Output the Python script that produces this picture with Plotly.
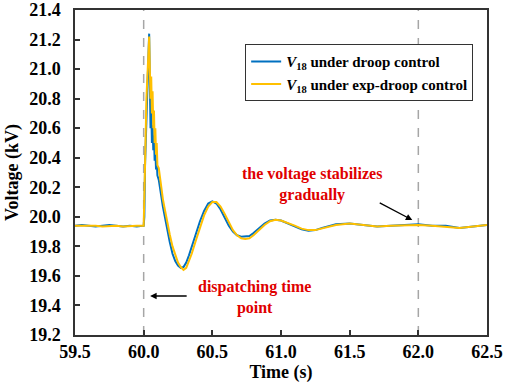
import plotly.graph_objects as go

# ---------------- data ----------------
time_s = [59.50, 59.55, 59.60, 59.65, 59.70, 59.75, 59.80, 59.85, 59.90, 59.95,
          60.00, 60.005, 60.01, 60.02, 60.03, 60.04, 60.045, 60.05, 60.055, 60.06,
          60.065, 60.07, 60.075, 60.08, 60.085, 60.09, 60.095, 60.10, 60.11, 60.12,
          60.13, 60.14, 60.15, 60.17, 60.19, 60.21, 60.23, 60.25, 60.27, 60.29,
          60.31, 60.33, 60.35, 60.38, 60.41, 60.44, 60.47, 60.50, 60.53, 60.56,
          60.59, 60.62, 60.65, 60.68, 60.71, 60.74, 60.77, 60.80, 60.84, 60.88,
          60.92, 60.96, 61.00, 61.05, 61.10, 61.15, 61.20, 61.25, 61.30, 61.35,
          61.40, 61.50, 61.60, 61.70, 61.80, 61.90, 62.00, 62.10, 62.20, 62.30,
          62.40, 62.50]

v_droop = [19.94, 19.945, 19.94, 19.935, 19.94, 19.945, 19.94, 19.935, 19.94, 19.935,
           19.94, 20.00, 20.35, 20.60, 20.95, 21.24, 20.90, 20.60, 20.75, 20.50,
           20.62, 20.45, 20.55, 20.38, 20.45, 20.32, 20.38, 20.28, 20.25, 20.18,
           20.12, 20.07, 20.02, 19.92, 19.83, 19.75, 19.70, 19.67, 19.655, 19.66,
           19.69, 19.74, 19.80, 19.89, 19.97, 20.04, 20.09, 20.105, 20.09, 20.05,
           19.99, 19.94, 19.90, 19.875, 19.865, 19.865, 19.87, 19.89, 19.925, 19.955,
           19.975, 19.98, 19.975, 19.955, 19.935, 19.915, 19.905, 19.91, 19.925, 19.94,
           19.95, 19.955, 19.945, 19.935, 19.94, 19.945, 19.95, 19.94, 19.94, 19.925,
           19.935, 19.945]

v_exp_droop = [19.94, 19.94, 19.945, 19.94, 19.935, 19.94, 19.94, 19.935, 19.94, 19.94,
               19.94, 20.10, 20.35, 20.80, 21.00, 21.22, 21.00, 20.80, 20.95, 20.70,
               20.85, 20.60, 20.72, 20.50, 20.60, 20.42, 20.50, 20.35, 20.33, 20.25,
               20.18, 20.12, 20.07, 19.97, 19.88, 19.80, 19.74, 19.69, 19.66, 19.64,
               19.655, 19.70, 19.75, 19.84, 19.93, 20.01, 20.07, 20.10, 20.10, 20.07,
               20.02, 19.96, 19.91, 19.875, 19.855, 19.85, 19.855, 19.875, 19.91, 19.945,
               19.97, 19.98, 19.975, 19.96, 19.94, 19.92, 19.91, 19.91, 19.92, 19.935,
               19.945, 19.955, 19.945, 19.935, 19.94, 19.945, 19.945, 19.94, 19.935, 19.925,
               19.935, 19.945]

x_ticks = [59.5, 60.0, 60.5, 61.0, 61.5, 62.0, 62.5]
y_ticks = [19.2, 19.4, 19.6, 19.8, 20.0, 20.2, 20.4, 20.6, 20.8, 21.0, 21.2, 21.4]
marker_times = [60.0, 62.0]

FONT = "Liberation Serif"

fig = go.Figure()
fig.add_trace(go.Scatter(
    x=time_s, y=v_droop, mode="lines",
    name="<b><i>V</i><sub>18</sub> under droop control</b>",
    line=dict(color="#0070C0", width=2)))
fig.add_trace(go.Scatter(
    x=time_s, y=v_exp_droop, mode="lines",
    name="<b><i>V</i><sub>18</sub> under exp-droop control</b>",
    line=dict(color="#FFC000", width=2)))

for t in marker_times:
    fig.add_vline(x=t, line=dict(color="#A6A6A6", width=1.5, dash="dash"), layer="below")

fig.add_annotation(x=61.227, y=20.22, text="<b>the voltage stabilizes<br>gradually</b>",
                   showarrow=False, font=dict(family=FONT, size=16, color="#E00000"),
                   align="center")
fig.add_annotation(x=60.805, y=19.457, text="<b>dispatching time<br>point</b>",
                   showarrow=False, font=dict(family=FONT, size=16, color="#E00000"),
                   align="center")
fig.add_annotation(x=61.956, y=19.978, ax=61.708, ay=20.10, axref="x", ayref="y",
                   text="", showarrow=True, arrowhead=2, arrowsize=1, arrowwidth=1.3,
                   arrowcolor="black")
fig.add_annotation(x=60.047, y=19.464, ax=60.324, ay=19.464, axref="x", ayref="y",
                   text="", showarrow=True, arrowhead=2, arrowsize=1, arrowwidth=1.3,
                   arrowcolor="black")

axis_common = dict(showgrid=False, zeroline=False, showline=True, linecolor="#333333",
                   linewidth=1.5, mirror=True, ticks="inside", ticklen=5,
                   tickcolor="#333333", tickwidth=1.5, automargin=False,
                   tickfont=dict(family=FONT, size=18, color="black"))

fig.update_xaxes(range=[59.5, 62.5], tickvals=x_ticks,
                 ticktext=[f"<b>{v:.1f}</b>" for v in x_ticks],
                 title=dict(text="<b>Time (s)</b>", font=dict(family=FONT, size=18, color="black"),
                            standoff=2),
                 **axis_common)
fig.update_yaxes(range=[19.2, 21.4], tickvals=y_ticks,
                 ticktext=[f"<b>{v:.1f}</b>" for v in y_ticks],
                 title=dict(text="<b>Voltage (kV)</b>", font=dict(family=FONT, size=18, color="black"),
                            standoff=6),
                 ticklabelstandoff=9,
                 **axis_common)

fig.update_layout(
    width=505, height=384,
    margin=dict(l=75, r=18, t=10, b=49),
    plot_bgcolor="white", paper_bgcolor="white",
    font=dict(family=FONT, color="black"),
    legend=dict(x=0.413, y=0.895, xanchor="left", yanchor="top",
                bgcolor="white", bordercolor="#333333", borderwidth=1,
                font=dict(family=FONT, size=15, color="black"),
                tracegroupgap=0, itemwidth=30),
)

fig.write_html("out.html", config={"displayModeBar": False},
               post_script="document.body.style.margin='0';document.body.style.padding='0';")
